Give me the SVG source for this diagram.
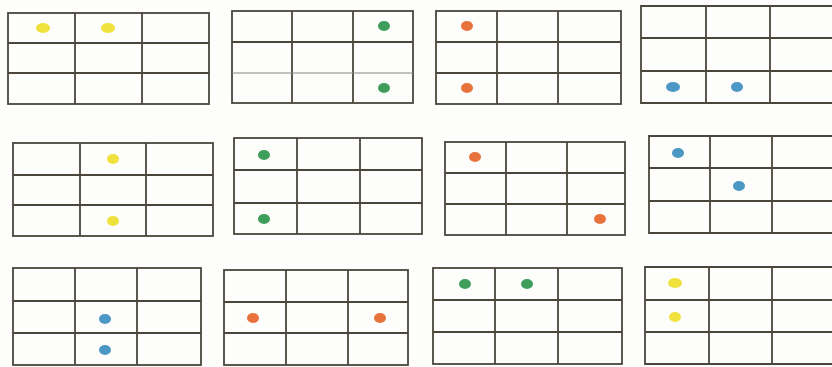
<svg xmlns="http://www.w3.org/2000/svg" width="832" height="367" viewBox="0 0 832 367">
<style>
.g{fill:none;stroke:#4a463c;stroke-width:1.8}
.y{fill:#f0e23c}.gr{fill:#3f9e5c}.o{fill:#e8723c}.b{fill:#4c98c4}
</style>
<rect width="832" height="367" fill="#fdfdfc"/>
<g id="grid1">
<rect class="g" x="8" y="13" width="201" height="91"/>
<path class="g" d="M75 13V104M142 13V104M8 43H209M8 73H209"/>
<ellipse class="y" cx="43" cy="28" rx="7" ry="5"/><ellipse class="y" cx="108" cy="28" rx="7" ry="5"/>
</g>
<g id="grid2">
<rect class="g" x="232" y="11" width="181" height="92"/>
<path class="g" d="M292 11V103M353 11V103M232 42H413"/>
<path d="M232 73H413" fill="none" stroke="#8a877f" stroke-width="1"/>
<ellipse class="gr" cx="384" cy="26" rx="6" ry="5"/><ellipse class="gr" cx="384" cy="88" rx="6" ry="5"/>
</g>
<g id="grid3">
<rect class="g" x="436" y="11" width="185" height="93"/>
<path class="g" d="M497 11V104M558 11V104M436 42H621M436 73H621"/>
<ellipse class="o" cx="467" cy="26" rx="6" ry="5"/><ellipse class="o" cx="467" cy="88" rx="6" ry="5"/>
</g>
<g id="grid4">
<path class="g" d="M836 6H641V103H836M706 6V103M770 6V103M641 38H836M641 71H836"/>
<ellipse class="b" cx="673" cy="87" rx="7" ry="5"/><ellipse class="b" cx="737" cy="87" rx="6" ry="5"/>
</g>
<g id="grid5">
<rect class="g" x="13" y="143" width="200" height="93"/>
<path class="g" d="M80 143V236M146 143V236M13 175H213M13 205H213"/>
<ellipse class="y" cx="113" cy="159" rx="6" ry="5"/><ellipse class="y" cx="113" cy="221" rx="6" ry="5"/>
</g>
<g id="grid6">
<rect class="g" x="234" y="138" width="188" height="96"/>
<path class="g" d="M297 138V234M360 138V234M234 170H422M234 203H422"/>
<ellipse class="gr" cx="264" cy="155" rx="6" ry="5"/><ellipse class="gr" cx="264" cy="219" rx="6" ry="5"/>
</g>
<g id="grid7">
<rect class="g" x="445" y="142" width="180" height="93"/>
<path class="g" d="M506 142V235M567 142V235M445 173H625M445 204H625"/>
<ellipse class="o" cx="475" cy="157" rx="6" ry="5"/><ellipse class="o" cx="600" cy="219" rx="6" ry="5"/>
</g>
<g id="grid8">
<path class="g" d="M836 136H649V233H836M710 136V233M772 136V233M649 168H836M649 201H836"/>
<ellipse class="b" cx="678" cy="153" rx="6" ry="5"/><ellipse class="b" cx="739" cy="186" rx="6" ry="5"/>
</g>
<g id="grid9">
<rect class="g" x="13" y="268" width="188" height="97"/>
<path class="g" d="M75 268V365M137 268V365M13 301H201M13 333H201"/>
<ellipse class="b" cx="105" cy="319" rx="6" ry="5"/><ellipse class="b" cx="105" cy="350" rx="6" ry="5"/>
</g>
<g id="grid10">
<rect class="g" x="224" y="270" width="184" height="95"/>
<path class="g" d="M286 270V365M348 270V365M224 302H408M224 333H408"/>
<ellipse class="o" cx="253" cy="318" rx="6" ry="5"/><ellipse class="o" cx="380" cy="318" rx="6" ry="5"/>
</g>
<g id="grid11">
<rect class="g" x="433" y="268" width="189" height="96"/>
<path class="g" d="M495 268V364M558 268V364M433 300H622M433 332H622"/>
<ellipse class="gr" cx="465" cy="284" rx="6" ry="5"/><ellipse class="gr" cx="527" cy="284" rx="6" ry="5"/>
</g>
<g id="grid12">
<path class="g" d="M836 267H645V364H836M709 267V364M772 267V364M645 300H836M645 332H836"/>
<ellipse class="y" cx="675" cy="283" rx="7" ry="5"/><ellipse class="y" cx="675" cy="317" rx="6" ry="5"/>
</g>
</svg>
